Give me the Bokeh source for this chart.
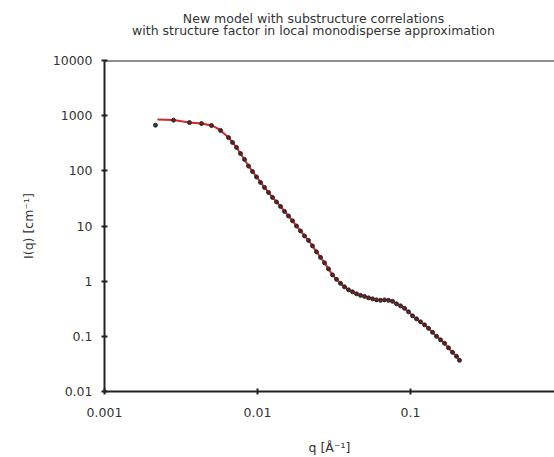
from bokeh.plotting import figure
from bokeh.layouts import column
from bokeh.models import Range1d, FixedTicker, Span, Label
from bokeh.embed import file_html
from bokeh.resources import INLINE

# ---- data ----
model_q = [0.002221, 0.002504, 0.002825, 0.003187, 0.003594, 0.003935, 0.004305, 0.004642,
           0.005004, 0.005395, 0.005731, 0.006087, 0.006464, 0.006865, 0.007290, 0.007743,
           0.008222, 0.008733, 0.009275, 0.009851, 0.010462, 0.011111, 0.011799, 0.012531,
           0.013310, 0.014135, 0.015013, 0.015943, 0.016935, 0.017984, 0.019099, 0.020285,
           0.021544, 0.022880, 0.024298, 0.025806, 0.027406, 0.029107, 0.030910, 0.032826,
           0.034865, 0.037028, 0.039330, 0.041763, 0.044361, 0.047108, 0.050035, 0.053148,
           0.056441, 0.059948, 0.063666, 0.067624, 0.071813, 0.076280, 0.081002, 0.086017,
           0.091366, 0.097030, 0.10306, 0.10945, 0.11625, 0.12346, 0.13110, 0.13924,
           0.14787, 0.15705, 0.16681, 0.17715, 0.18810, 0.19985, 0.20907]
model_I = [853.5, 846.3, 835.9, 791.8, 753.1, 737.6, 722.3, 692.8,
           664.5, 598.7, 539.4, 466.2, 402.8, 327.0, 265.4, 206.7,
           160.8, 122.7, 97.5, 77.5, 61.6, 50.0, 40.6, 33.0,
           27.3, 22.65, 18.39, 15.24, 12.37, 10.04, 8.15, 6.62,
           5.48, 4.36, 3.40, 2.70, 2.15, 1.67, 1.30, 1.078,
           0.912, 0.788, 0.696, 0.640, 0.589, 0.553, 0.530, 0.498,
           0.478, 0.458, 0.449, 0.458, 0.449, 0.431, 0.388, 0.357,
           0.3215, 0.2779, 0.2351, 0.2075, 0.1831, 0.1616, 0.1396, 0.1182,
           0.100, 0.0864, 0.0747, 0.0619, 0.0513, 0.0434, 0.0367]

data_q = [0.002154, 0.002825, 0.003594, 0.004305, 0.005004, 0.005731, 0.006464, 0.006865,
          0.007290, 0.007743, 0.008222, 0.008733, 0.009275, 0.009851, 0.010462, 0.011111,
          0.011799, 0.012531, 0.013310, 0.014135, 0.015013, 0.015943, 0.016935, 0.017984,
          0.019099, 0.020285, 0.021544, 0.022880, 0.024298, 0.025806, 0.027406, 0.029107,
          0.030910, 0.032826, 0.034865, 0.037028, 0.039330, 0.041763, 0.044361, 0.047108,
          0.050035, 0.053148, 0.056441, 0.059948, 0.063666, 0.067624, 0.071813, 0.076280,
          0.081002, 0.086017, 0.091366, 0.097030, 0.10306, 0.10945, 0.11625, 0.12346,
          0.13110, 0.13924, 0.14787, 0.15705, 0.16681, 0.17715, 0.18810, 0.19985, 0.20907]
data_I = [673.0, 830.0, 750.0, 720.0, 662.0, 540.0, 400.0, 327.0,
          265.0, 206.0, 161.0, 122.0, 97.0, 77.5, 61.6, 50.0,
          40.6, 33.0, 27.3, 22.6, 18.4, 15.2, 12.4, 10.0,
          8.15, 6.62, 5.48, 4.36, 3.40, 2.70, 2.15, 1.67,
          1.30, 1.08, 0.912, 0.788, 0.696, 0.640, 0.589, 0.553,
          0.530, 0.498, 0.478, 0.458, 0.449, 0.458, 0.449, 0.431,
          0.388, 0.357, 0.3215, 0.2779, 0.2351, 0.2075, 0.1831, 0.1616,
          0.1396, 0.1182, 0.100, 0.0864, 0.0747, 0.0619, 0.0513, 0.0434, 0.0367]

x_ticks = [0.001, 0.01, 0.1, 1]
x_labels = ["0.001", "0.01", "0.1", "1"]
y_ticks = [0.01, 0.1, 1, 10, 100, 1000, 10000]
y_labels = ["0.01", "0.1", "1", "10", "100", "1000", "10000"]

title_lines = ["New model with substructure correlations",
               "with structure factor in local monodisperse approximation"]

FONT = "DejaVu Sans"
TXT = "#333333"

# ---- title strip (a bare figure holding the two centred title lines);
#      its frame is aligned with the plot frame (104..554 px), so the
#      x range is expressed in page pixels ----
t = figure(width=554, height=46, x_range=Range1d(104, 554), y_range=Range1d(0, 46),
           x_axis_location=None, y_axis_location=None, output_backend="svg",
           toolbar_location=None, min_border=0)
t.grid.visible = False
t.outline_line_color = None
for i, line in enumerate(title_lines):
    t.add_layout(Label(x=313, y=28 - 12 * i, text=line, text_align="center",
                       text_baseline="middle", text_font=FONT, text_font_size="12.5px",
                       text_color=TXT))

# ---- main plot ----
p = figure(width=554, height=411, x_axis_type="log", y_axis_type="log",
           x_range=Range1d(0.001, 0.873), y_range=Range1d(0.01, 10000),
           output_backend="svg", toolbar_location=None,
           min_border_left=104, min_border_right=0, min_border_top=14,
           min_border_bottom=66)

p.grid.visible = False
p.outline_line_color = None
p.background_fill_color = "white"
p.border_fill_color = "white"

for ax, ticks, labels in ((p.xaxis[0], x_ticks, x_labels), (p.yaxis[0], y_ticks, y_labels)):
    ax.ticker = FixedTicker(ticks=ticks, minor_ticks=[])
    ax.major_label_overrides = {tk: lb for tk, lb in zip(ticks, labels)}
    ax.axis_line_color = "#222222"
    ax.axis_line_width = 2
    ax.major_tick_line_color = "#222222"
    ax.major_tick_line_width = 2
    ax.major_tick_in = 3
    ax.major_tick_out = 3
    ax.minor_tick_line_color = None
    ax.major_label_text_font = FONT
    ax.major_label_text_font_size = "12.5px"
    ax.major_label_text_color = TXT
    ax.axis_label_text_font = FONT
    ax.axis_label_text_font_size = "12.5px"
    ax.axis_label_text_font_style = "normal"
    ax.axis_label_text_color = TXT

p.xaxis.axis_label = "q [Å\u207b\u00b9]"
p.yaxis.axis_label = "I(q) [cm\u207b\u00b9]"
p.xaxis.major_label_standoff = 13
p.xaxis.axis_label_standoff = 20
p.yaxis.major_label_standoff = 9
p.yaxis.axis_label_standoff = 14

p.add_layout(Span(location=10000, dimension="width", line_color="#222222", line_width=2))

p.line(model_q, model_I, line_color="#d42a2a", line_width=2)
p.scatter(data_q, data_I, size=4, fill_color="#1a1a1a", line_color="#1a1a1a", alpha=0.85)
p.line(model_q, model_I, line_color="#d42a2a", line_width=1, alpha=0.6)

layout = column(t, p, spacing=0)
open("out.html", "w").write(file_html(layout, INLINE))
